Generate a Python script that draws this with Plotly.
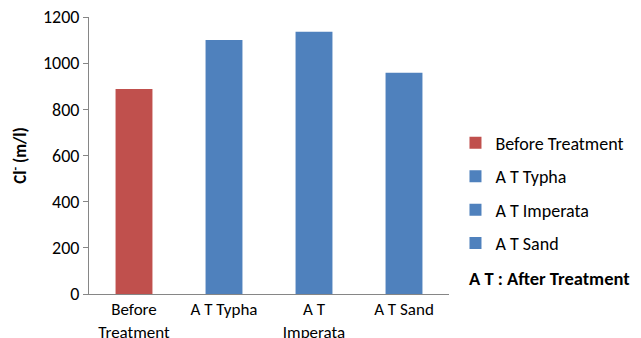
import plotly.graph_objects as go

categories = ["Before<br>Treatment", "A T Typha", "A T<br>Imperata", "A T Sand"]
legend_names = ["Before Treatment", "A T Typha", "A T Imperata", "A T Sand"]
values = [888, 1100, 1136, 959]
colors = ["#C0504D", "#4F81BD", "#4F81BD", "#4F81BD"]

FONT = "Carlito, Calibri, Lato, sans-serif"

fig = go.Figure()
for i, (cat, name, v, c) in enumerate(zip(categories, legend_names, values, colors)):
    fig.add_trace(go.Bar(
        x=[cat], y=[v], name=name, marker_color=c, width=0.41,
        legendgroup=f"g{i}", marker_line_width=0,
    ))

fig.update_layout(
    width=633, height=330,
    margin=dict(l=81, r=192, t=9, b=44, autoexpand=False),
    paper_bgcolor="white", plot_bgcolor="white",
    barmode="overlay",
    font=dict(family=FONT, size=18, color="#000000"),
    showlegend=True,
    legend=dict(x=1.018, y=0.364, xanchor="left", yanchor="middle",
                tracegroupgap=7, font=dict(size=18), itemwidth=30,
                bgcolor="rgba(0,0,0,0)"),
    xaxis=dict(categoryorder="array", categoryarray=categories,
               showline=True, linecolor="#868686", linewidth=1,
               ticks="", tickfont=dict(size=17), showgrid=False,
               ticklabeloverflow="allow", ticklabelstandoff=0),
    yaxis=dict(range=[0, 1200], dtick=200, showline=True, linecolor="#868686",
               linewidth=1, ticks="outside", ticklen=5, tickcolor="#868686",
               showgrid=False, zeroline=False, tickfont=dict(size=18),
               ticklabeloverflow="allow",
               title=dict(text="<b>Cl<sup>-</sup> (m/l)</b>", font=dict(size=17), standoff=12)),
)
fig.add_annotation(text="<b>A T : After Treatment</b>", xref="paper", yref="paper",
                   x=1.05, y=0.056, xanchor="left", yanchor="middle",
                   showarrow=False, font=dict(size=18.5))

fig.write_html("out.html")
